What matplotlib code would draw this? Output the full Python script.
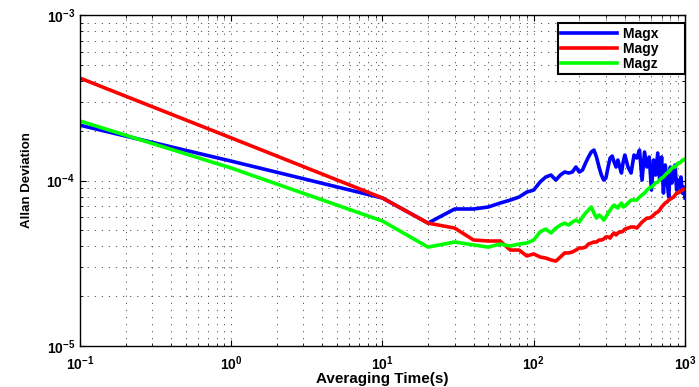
import matplotlib
matplotlib.use("Agg")
import matplotlib.pyplot as plt

# averaging times (s)
tau = [0.1, 1, 10, 20, 30, 40, 50, 60, 70, 80, 90, 100,
       110, 120, 130, 140, 150, 160, 170, 180, 190, 200,
       210, 220, 230, 240, 250, 260, 270, 280, 290, 300,
       310, 320, 330, 340, 350, 360, 370, 380, 390, 400,
       420, 440, 460, 480, 500, 520, 540, 560, 580, 600,
       620, 640, 660, 680, 700, 720, 740, 760, 780, 800,
       820, 840, 860, 880, 900, 920, 940, 960, 980, 1000]

magx = [2.16e-4, 1.31e-4, 7.84e-5, 5.53e-5, 6.73e-5, 6.73e-5, 6.92e-5, 7.31e-5, 7.62e-5, 7.95e-5, 8.52e-5, 8.76e-5,
        9.79e-5, 1.050e-4, 1.080e-4, 1.007e-4, 1.080e-4, 1.126e-4, 1.110e-4, 1.126e-4, 1.207e-4, 1.126e-4,
        1.157e-4, 1.276e-4, 1.387e-4, 1.487e-4, 1.528e-4, 1.387e-4, 1.207e-4, 1.080e-4, 1.007e-4, 1.035e-4,
        1.207e-4, 1.368e-4, 1.406e-4, 1.294e-4, 1.207e-4, 1.330e-4, 1.207e-4, 1.110e-4, 1.294e-4, 1.426e-4,
        1.207e-4, 1.110e-4, 1.426e-4, 1.368e-4, 1.528e-4, 1.007e-4, 1.487e-4, 1.207e-4, 1.387e-4, 8.76e-5,
        1.330e-4, 1.080e-4, 1.466e-4, 1.007e-4, 1.387e-4, 8.40e-5, 1.241e-4, 1.007e-4, 7.95e-5, 1.207e-4,
        9.66e-5, 1.080e-4, 1.241e-4, 8.76e-5, 1.007e-4, 9.01e-5, 1.050e-4, 8.40e-5, 9.13e-5, 7.84e-5]

magy = [4.16e-4, 1.81e-4, 7.84e-5, 5.53e-5, 5.16e-5, 4.37e-5, 4.31e-5, 4.31e-5, 3.80e-5, 3.80e-5, 3.50e-5, 3.60e-5,
        3.45e-5, 3.40e-5, 3.31e-5, 3.26e-5, 3.45e-5, 3.65e-5, 3.65e-5, 3.70e-5, 3.80e-5, 3.91e-5,
        3.91e-5, 3.96e-5, 4.13e-5, 4.19e-5, 4.25e-5, 4.25e-5, 4.37e-5, 4.37e-5, 4.43e-5, 4.56e-5,
        4.56e-5, 4.49e-5, 4.69e-5, 4.82e-5, 4.69e-5, 4.82e-5, 4.89e-5, 4.89e-5, 4.95e-5, 5.09e-5,
        5.16e-5, 5.24e-5, 5.24e-5, 5.16e-5, 5.38e-5, 5.61e-5, 5.77e-5, 5.93e-5, 5.93e-5, 6.02e-5,
        6.19e-5, 6.36e-5, 6.45e-5, 6.63e-5, 6.92e-5, 7.11e-5, 7.31e-5, 7.42e-5, 7.62e-5, 7.73e-5,
        7.84e-5, 7.95e-5, 8.18e-5, 8.40e-5, 8.40e-5, 8.52e-5, 8.64e-5, 8.76e-5, 8.88e-5, 8.88e-5]

magz = [2.29e-4, 1.19e-4, 5.69e-5, 3.96e-5, 4.25e-5, 4.08e-5, 3.96e-5, 4.13e-5, 4.02e-5, 4.13e-5, 4.19e-5, 4.37e-5,
        4.89e-5, 5.09e-5, 4.82e-5, 5.16e-5, 5.38e-5, 5.53e-5, 5.38e-5, 5.61e-5, 5.77e-5, 5.61e-5,
        6.02e-5, 6.36e-5, 6.63e-5, 6.92e-5, 6.36e-5, 5.93e-5, 6.19e-5, 6.02e-5, 5.77e-5, 6.02e-5,
        6.36e-5, 6.63e-5, 6.92e-5, 7.11e-5, 6.92e-5, 6.82e-5, 7.11e-5, 7.31e-5, 6.92e-5, 7.01e-5,
        7.31e-5, 7.62e-5, 7.62e-5, 7.62e-5, 7.95e-5, 8.18e-5, 8.40e-5, 8.76e-5, 9.01e-5, 9.13e-5,
        9.39e-5, 9.66e-5, 9.79e-5, 1.007e-4, 1.035e-4, 1.050e-4, 1.080e-4, 1.110e-4, 1.126e-4, 1.157e-4,
        1.190e-4, 1.207e-4, 1.207e-4, 1.241e-4, 1.276e-4, 1.276e-4, 1.294e-4, 1.330e-4, 1.330e-4, 1.349e-4]

plt.rcParams['font.family'] = ['Liberation Sans', 'DejaVu Sans']
plt.rcParams['font.weight'] = 'bold'
plt.rcParams['mathtext.default'] = 'bf'

fig = plt.figure(figsize=(6.99, 3.87), dpi=100)
ax = fig.add_axes([0.1144, 0.106, 0.8656, 0.855])

ax.plot(tau, magx, color='#0000ff', lw=2.6, label='Magx')
ax.plot(tau, magy, color='#ff0000', lw=2.6, label='Magy')
ax.plot(tau, magz, color='#00ff00', lw=2.6, label='Magz')

ax.set_xscale('log')
ax.set_yscale('log')
ax.set_xlim(0.1, 1000)
ax.set_ylim(1e-5, 1e-3)

# sparse dotted grid like matlab
ax.grid(True, which='both', linestyle=(0, (1.5, 7)), color='#444444', lw=0.6)
ax.tick_params(which='both', direction='in', top=True, right=True, labelsize=10)
ax.tick_params(which='major', length=4)
ax.tick_params(which='minor', length=2)
ax.tick_params(axis='x', pad=6)
for s in ax.spines.values():
    s.set_linewidth(1.0)

ax.set_xlabel('Averaging Time(s)', fontsize=11, fontweight='bold', va='baseline')
ax.xaxis.set_label_coords(0.5, -0.112)
ax.set_ylabel('Allan Deviation', fontsize=9.5, fontweight='bold', labelpad=10)

# matlab legend leaves extra room right of the text
leg = ax.legend(loc='upper right', bbox_to_anchor=(1.0, 0.976), fontsize=10,
                fancybox=False, framealpha=1, edgecolor='black', handlelength=4.0,
                borderaxespad=0, labelspacing=0.08, handletextpad=0.45, borderpad=0.25)
leg.get_frame().set_linewidth(1.5)
for t, name in zip(leg.get_texts(), ['Magx', 'Magy', 'Magz']):
    t.set_text(name + '      ')
    t.set_fontweight('bold')

fig.savefig('out.png', dpi=100)
